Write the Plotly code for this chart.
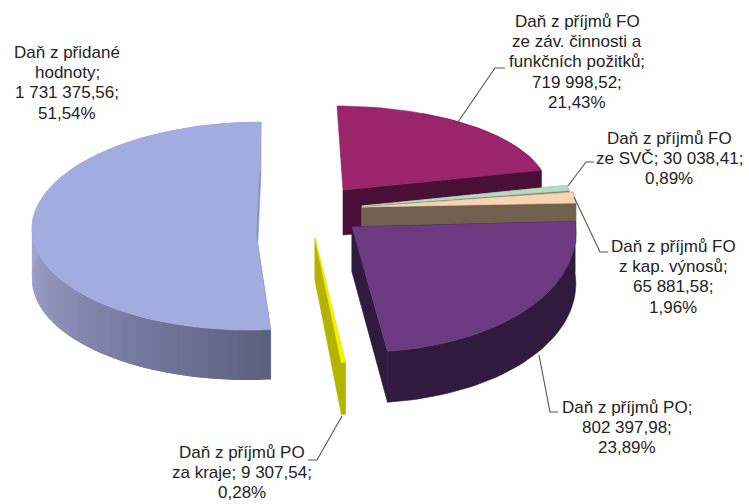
import math
import plotly.graph_objects as go

# --- data -------------------------------------------------------------
categories = [
    "Daň z příjmů FO ze záv. činnosti a funkčních požitků",
    "Daň z příjmů FO ze SVČ",
    "Daň z příjmů FO z kap. výnosů",
    "Daň z příjmů PO",
    "Daň z příjmů PO za kraje",
    "Daň z přidané hodnoty",
]
values = [719998.52, 30038.41, 65881.58, 802397.98, 9307.54, 1731375.56]

label_lines = [
    ["Daň z příjmů FO", "ze záv. činnosti a", "funkčních požitků;", "719 998,52;", "21,43%"],
    ["Daň z příjmů FO", "ze SVČ; 30 038,41;", "0,89%"],
    ["Daň z příjmů FO", "z kap. výnosů;", "65 881,58;", "1,96%"],
    ["Daň z příjmů PO;", "802 397,98;", "23,89%"],
    ["Daň z příjmů PO", "za kraje; 9 307,54;", "0,28%"],
    ["Daň z přidané", "hodnoty;", "1 731 375,56;", "51,54%"],
]

# --- styling / layout (one entry per slice) ---------------------------
top_colors = ["#9a256b", "#b9d9c2", "#f8d4b2", "#6c3a80", "#f4f400", "#a3acdf"]
wall_colors = ["#4a0f36", "#6f8a78", "#70604f", "#301a3e", "#b4b400", "#5c6080"]
wall_light = [None, None, None, None, None, "#a2a6d0"]
# colour of the radial wall at the slice's last angle; None keeps the wall colour
end_wall_colors = [None, None, None, None, None, "#8a92c4"]
# slices whose first radial wall would peek out behind the top face
skip_start_wall = [True, False, False, False, False, False]
# ellipse centre, radii, shear, apex, outer depth, apex depth
geometry = [
    dict(cx=343, cy=188.6, rx=204.6, ry=82.6, sx=-6, ax=343, ay=190, d=46, da=45),
    dict(cx=362, cy=206, rx=210, ry=93, sx=0, ax=362, ay=206, d=40, da=40),
    dict(cx=362, cy=207, rx=214, ry=89, sx=0, ax=362, ay=207, d=40, da=40),
    dict(cx=352, cy=227, rx=223.6, ry=125, sx=-10, ax=352, ay=227, d=51, da=45),
    dict(cx=315, cy=238, rx=225, ry=125, sx=-4.6, ax=315, ay=238, d=52, da=42),
    dict(cx=255, cy=226, rx=223, ry=104, sx=6, ax=256, ay=233, d=50, da=50),
]
# x centre and middle y of first line
label_pos = [(577, 21), (669, 138), (673, 246), (627, 407), (242, 452), (67, 52)]
LINE_PITCH = 20.4
leaders = [
    [(458, 122), (495, 68), (505, 68)],
    [(568, 186), (586, 162), (594, 162)],
    [(574, 197), (600, 252), (608, 252)],
    [(539, 355), (550, 412), (558, 412)],
    [(342, 416), (317, 460), (308, 460)],
]
FONT = "Liberation Sans, Arial, sans-serif"
FONT_SIZE = 17


def hex2rgb(h):
    return tuple(int(h[i:i + 2], 16) for i in (1, 3, 5))


def mix(a, b, t):
    ra, rb = hex2rgb(a), hex2rgb(b)
    return "rgb(%d,%d,%d)" % tuple(round(p + (q - p) * t) for p, q in zip(ra, rb))


def point(g, deg):
    th = math.radians(deg)
    return (g["cx"] + g["rx"] * math.sin(th) + g["sx"] * math.cos(th),
            g["cy"] - g["ry"] * math.cos(th))


def poly(pts, color, name, lw=0.6):
    xs = [p[0] for p in pts] + [pts[0][0]]
    ys = [p[1] for p in pts] + [pts[0][1]]
    return go.Scatter(x=xs, y=ys, mode="lines", fill="toself", fillcolor=color,
                      line=dict(color=color, width=lw), hoverinfo="skip",
                      showlegend=False, name=name)


total = sum(values)
bounds = [0.0]
for v in values:
    bounds.append(bounds[-1] + v / total * 360.0)

fig = go.Figure()
for i in [0, 1, 2, 5, 3, 4]:
    g = geometry[i]
    a0, a1 = bounds[i], bounds[i + 1]
    n = max(3, int((a1 - a0) / 2))
    arc = [point(g, a0 + (a1 - a0) * k / n) for k in range(n + 1)]
    apex = (g["ax"], g["ay"])
    apex_low = (g["ax"], g["ay"] + g["da"])
    shift = lambda p: (p[0], p[1] + g["d"])
    wall = wall_colors[i]
    # radial walls
    if not skip_start_wall[i]:
        fig.add_trace(poly([apex, apex_low, shift(arc[0]), arc[0]], wall, categories[i]))
    fig.add_trace(poly([apex, apex_low, shift(arc[-1]), arc[-1]],
                       end_wall_colors[i] or wall, categories[i]))
    # outer curved wall
    if wall_light[i]:
        half = n // 2 + 1
        for k in range(n):
            t = min(1.0, k / half)
            c = mix(wall, wall_light[i], t)
            # each strip overlaps its neighbour so no seams show
            end = min(n, k + 2)
            fig.add_trace(poly([arc[k], arc[end], shift(arc[end]), shift(arc[k])], c, categories[i], lw=0))
    else:
        seen = arc[n // 3:] if skip_start_wall[i] else arc
        fig.add_trace(poly(seen + [shift(p) for p in reversed(seen)], wall, categories[i]))
    # top face
    fig.add_trace(poly([apex] + arc, top_colors[i], categories[i]))

shapes = []
for path in leaders:
    d = "M " + " L ".join(f"{x},{y}" for x, y in path)
    shapes.append(dict(type="path", path=d, xref="x", yref="y",
                       line=dict(color="#555555", width=1.1)))

annotations = []
for lines, (x, y0) in zip(label_lines, label_pos):
    for j, line in enumerate(lines):
        annotations.append(dict(x=x, y=y0 + j * LINE_PITCH, xref="x", yref="y", text=line,
                                showarrow=False, xanchor="center", yanchor="middle",
                                font=dict(family=FONT, size=FONT_SIZE, color="#26221f")))

fig.update_layout(
    width=749, height=504, margin=dict(l=0, r=0, t=0, b=0),
    paper_bgcolor="white", plot_bgcolor="white", showlegend=False,
    xaxis=dict(range=[0, 749], visible=False, fixedrange=True),
    yaxis=dict(range=[504, 0], visible=False, fixedrange=True),
    shapes=shapes, annotations=annotations,
)
fig.write_html("out.html", config=dict(displayModeBar=False),
               post_script="document.body.style.margin='0';document.documentElement.style.overflow='hidden';")
